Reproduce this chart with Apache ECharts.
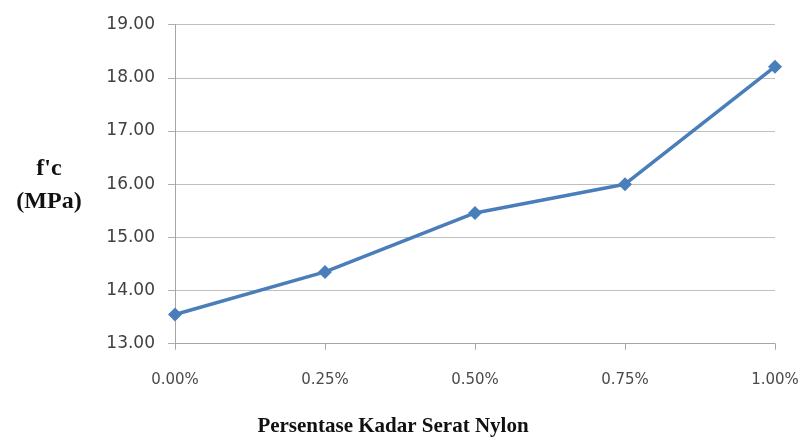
<!DOCTYPE html>
<html>
<head>
<meta charset="utf-8">
<script src="https://cdn.jsdelivr.net/npm/echarts@6/dist/echarts.min.js"></script>
<style>
  html, body { margin: 0; padding: 0; background: #fff; }
  #chart { width: 804px; height: 441px; }
</style>
</head>
<body>
<div id="chart"></div>
<script>
// Nylon fibre content (x) vs compressive strength f'c (y)
const categories = ['0.00%', '0.25%', '0.50%', '0.75%', '1.00%'];
const strength = [13.55, 14.35, 15.46, 16.00, 18.21];
const yTicks = { min: 13, max: 19, step: 1 };

const chart = echarts.init(document.getElementById('chart'));
chart.setOption({
  animation: false,
  backgroundColor: '#ffffff',
  grid: { left: 175, right: 29, top: 24.7, bottom: 97.3, containLabel: false },
  xAxis: {
    type: 'category',
    data: categories,
    boundaryGap: false,
    axisLine: { lineStyle: { color: '#a6a6a6', width: 1 } },
    axisTick: { show: true, length: 6, alignWithLabel: true, lineStyle: { color: '#a6a6a6' } },
    axisLabel: { color: '#4a4a4a', fontFamily: 'DejaVu Sans', fontSize: 15, margin: 29 },
    splitLine: { show: false }
  },
  yAxis: {
    type: 'value',
    min: yTicks.min,
    max: yTicks.max,
    interval: yTicks.step,
    axisLine: { show: true, lineStyle: { color: '#a6a6a6', width: 1 } },
    axisTick: { show: true, length: 7, lineStyle: { color: '#b0b0b0' } },
    axisLabel: {
      color: '#404040', fontFamily: 'DejaVu Sans', fontSize: 17, margin: 20,
      formatter: v => v.toFixed(2)
    },
    splitLine: { show: true, lineStyle: { color: '#bfbfbf', width: 1 } }
  },
  graphic: [
    {
      type: 'text', x: 49, y: 152,
      style: {
        text: "f'c\n(MPa)", fill: '#111', align: 'center',
        font: 'bold 24px "Liberation Serif", "Times New Roman", serif',
        lineHeight: 33
      }
    },
    {
      type: 'text', x: 393, y: 427,
      style: {
        text: 'Persentase Kadar Serat Nylon', fill: '#111',
        align: 'center', verticalAlign: 'middle',
        font: 'bold 21px "Liberation Serif", "Times New Roman", serif'
      }
    }
  ],
  series: [{
    type: 'line',
    data: strength,
    symbol: 'diamond',
    symbolSize: 14,
    lineStyle: { color: '#4a7ebb', width: 3.5 },
    itemStyle: { color: '#4a7ebb' }
  }]
});
</script>
</body>
</html>
